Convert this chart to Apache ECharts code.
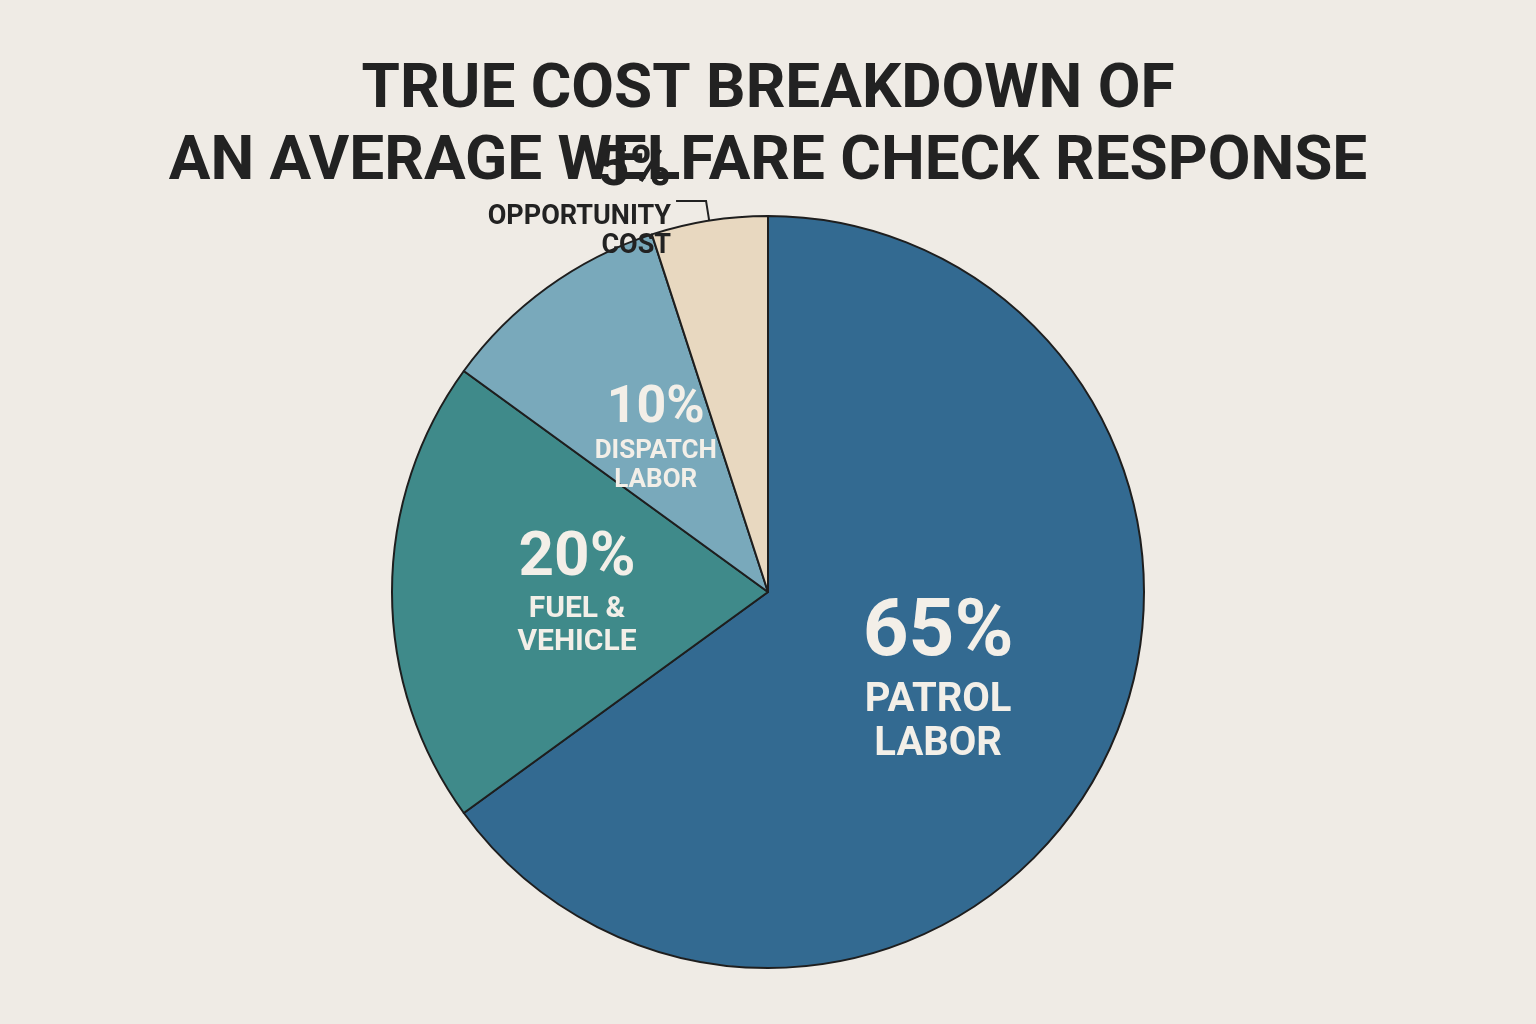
<!DOCTYPE html>
<html>
<head>
<meta charset="utf-8">
<script src="https://cdn.jsdelivr.net/npm/echarts@6/dist/echarts.min.js"></script>
<style>
  html, body { margin: 0; padding: 0; background: #efebe5; }
  #chart { width: 1536px; height: 1024px; }
</style>
</head>
<body>
<div id="chart"></div>
<script>
var categories = ['PATROL\nLABOR', 'FUEL &\nVEHICLE', 'DISPATCH\nLABOR', 'OPPORTUNITY\nCOST'];
var shares = [65, 20, 10, 5];
var colors = ['#336a91', '#3f8a8a', '#79a9bb', '#e8d8c0'];
var labelColors = ['#f3efe8', '#f3efe8', '#f3efe8', '#222222'];
var pctSizes = [80, 62, 52, 56];
var nameSizes = [40, 30, 26, 27];

var chart = echarts.init(document.getElementById('chart'));

var data = categories.map(function (c, i) {
  var lbl = {
    color: labelColors[i],
    formatter: '{p|' + shares[i] + '%}\n{n|' + c.split('\n').join('}\n{n|') + '}',
    rich: {
      p: { fontSize: pctSizes[i], fontWeight: 'bold', color: labelColors[i], lineHeight: pctSizes[i] * 1.1, fontFamily: 'Roboto' },
      n: { fontSize: nameSizes[i], fontWeight: 'bold', color: labelColors[i], lineHeight: nameSizes[i] * 1.1, fontFamily: 'Roboto' }
    }
  };
  if (i === 3) {
    lbl.position = 'outside';
  }
  return { name: c, value: shares[i], itemStyle: { color: colors[i] }, label: lbl,
    labelLine: { show: i === 3, length: 20, length2: 30, lineStyle: { color: '#222', width: 2 } } };
});

chart.setOption({
  backgroundColor: '#efebe5',
  title: {
    text: 'TRUE COST BREAKDOWN OF\nAN AVERAGE WELFARE CHECK RESPONSE',
    left: 'center',
    top: 50,
    textStyle: { fontSize: 62, fontWeight: 'bold', color: '#222222', lineHeight: 72, fontFamily: 'Roboto' }
  },
  series: [{
    type: 'pie',
    center: [768, 592],
    radius: [0, 376],
    startAngle: 90,
    clockwise: true,
    label: { show: true, position: 'inner' },
    labelLayout: { hideOverlap: false },
    itemStyle: { borderColor: '#1e1e1e', borderWidth: 2 },
    emphasis: { disabled: true },
    data: data
  }]
});
</script>
</body>
</html>
